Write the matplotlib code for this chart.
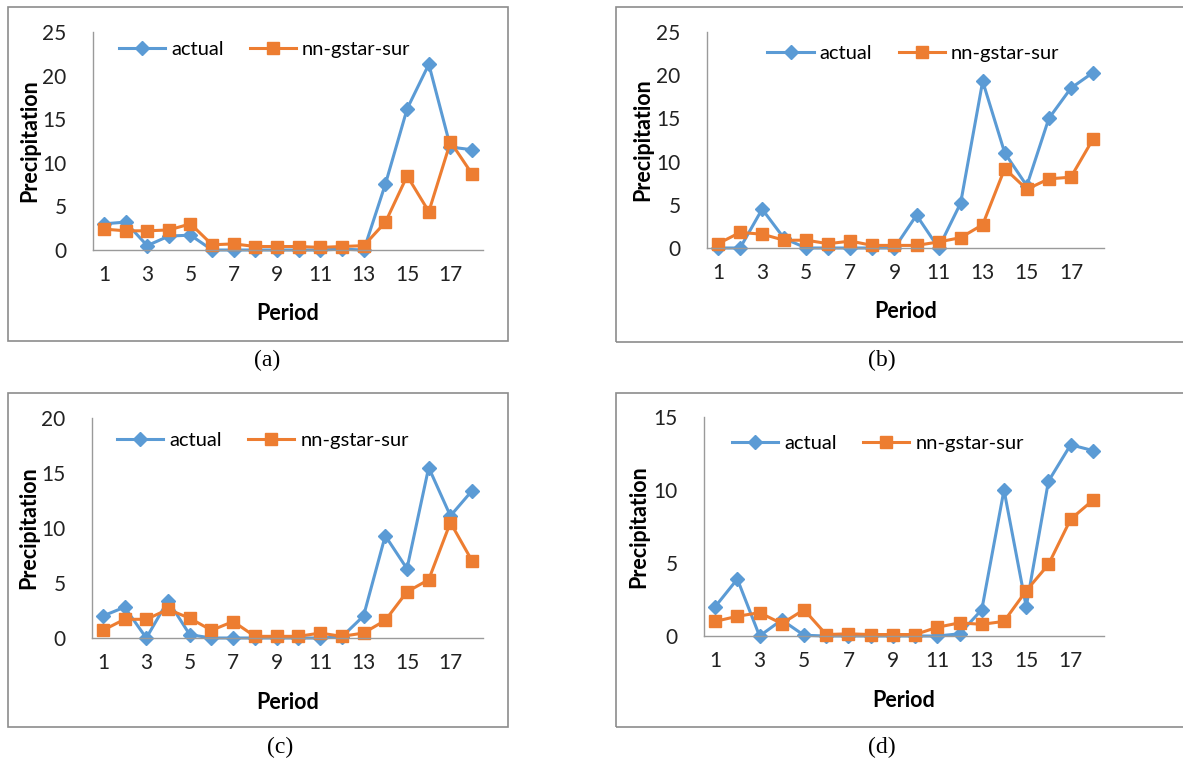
import numpy as np
import matplotlib
matplotlib.use("Agg")
import matplotlib.pyplot as plt
from matplotlib.patches import Rectangle

periods = list(range(1, 19))

actual_a = [3.0, 3.2, 0.5, 1.6, 1.7, 0, 0, 0, 0, 0, 0, 0.1, 0, 7.6, 16.2, 21.3, 11.8, 11.5]
pred_a = [2.4, 2.2, 2.2, 2.3, 3.0, 0.6, 0.7, 0.4, 0.4, 0.4, 0.3, 0.4, 0.5, 3.2, 8.5, 4.4, 12.4, 8.7]

actual_b = [0, 0, 4.5, 1.1, 0, 0, 0, 0, 0, 3.8, 0, 5.2, 19.3, 11.0, 7.2, 15.0, 18.5, 20.3]
pred_b = [0.5, 1.8, 1.6, 0.9, 0.9, 0.5, 0.8, 0.3, 0.3, 0.3, 0.7, 1.2, 2.7, 9.2, 6.8, 8.0, 8.2, 12.6]

actual_c = [2.0, 2.8, 0, 3.4, 0.3, 0, 0, 0, 0, 0, 0, 0.1, 2.0, 9.3, 6.3, 15.5, 11.1, 13.4]
pred_c = [0.7, 1.7, 1.7, 2.6, 1.8, 0.7, 1.5, 0.15, 0.15, 0.15, 0.45, 0.15, 0.45, 1.6, 4.2, 5.3, 10.5, 7.0]

actual_d = [2.0, 3.9, 0, 1.1, 0.05, 0, 0, 0, 0, 0, 0, 0.15, 1.8, 10.0, 2.0, 10.6, 13.1, 12.7]
pred_d = [1.0, 1.35, 1.6, 0.85, 1.8, 0.1, 0.15, 0.1, 0.1, 0.1, 0.6, 0.9, 0.8, 1.0, 3.1, 4.9, 8.0, 9.3]

ymax = [25, 25, 20, 15]
captions = ["(a)", "(b)", "(c)", "(d)"]

W, H = 1183, 761
BLUE = "#5B9BD5"
ORANGE = "#ED7D31"
FONT = "Lato"

# pixel layouts: axes (left, top, right, bottom), frame (x0, y0, x1, y1), caption (x, y), legend center (axes coords)
axes_px = [(93, 32, 483, 250), (707, 32, 1104, 248), (92, 418, 483, 638), (704, 417, 1104, 636)]
frame_px = [(8, 7, 508, 341), (616, 7, 1186, 342), (8, 393, 508, 727), (616, 393, 1186, 727)]
cap_px = [(267, 360), (882, 360), (280, 747), (882, 747)]
leg_pos = [(0.44, 0.92), (0.52, 0.90), (0.437, 0.90), (0.435, 0.877)]

data = [(actual_a, pred_a), (actual_b, pred_b), (actual_c, pred_c), (actual_d, pred_d)]

fig = plt.figure(figsize=(W / 100, H / 100), dpi=100)

for i in range(4):
    l, t, r, b = axes_px[i]
    ax = fig.add_axes([l / W, (H - b) / H, (r - l) / W, (b - t) / H])
    act, pred = data[i]
    ax.plot(periods, act, color=BLUE, marker="D", markersize=7, linewidth=2.2, label="actual")
    ax.plot(periods, pred, color=ORANGE, marker="s", markersize=8.5, linewidth=2.2, label="nn-gstar-sur")

    ax.set_xlim(0.5, 18.5)
    ax.set_ylim(0, ymax[i])
    ax.set_xticks(range(1, 18, 2))
    ax.set_yticks(range(0, ymax[i] + 1, 5))
    ax.tick_params(length=0, labelsize=15, colors="#222222")
    ax.tick_params(axis="y", pad=19)
    ax.tick_params(axis="x", pad=11)
    for lab in ax.get_xticklabels() + ax.get_yticklabels():
        lab.set_fontfamily(FONT)
    for s in ["top", "right"]:
        ax.spines[s].set_visible(False)
    for s in ["left", "bottom"]:
        ax.spines[s].set_color("#9a9a9a")
        ax.spines[s].set_linewidth(1.0)
    for ln in ax.lines:
        ln.set_clip_on(False)

    ax.set_xlabel("Period", fontsize=15.5, fontweight="bold", fontfamily=FONT)
    ax.set_ylabel("Precipitation", fontsize=15.5, fontweight="bold", fontfamily=FONT)
    ax.xaxis.set_label_coords(0.5, -0.245)
    ax.yaxis.set_label_coords(-0.136, 0.5)

    ax.legend(loc="center", bbox_to_anchor=leg_pos[i], ncol=2, frameon=False,
              handlelength=2.3, handletextpad=0.3, columnspacing=1.3,
              prop={"family": FONT, "size": 14.5})

    x0, y0, x1, y1 = frame_px[i]
    fig.add_artist(Rectangle((x0 / W, (H - y1) / H), (x1 - x0) / W, (y1 - y0) / H,
                             transform=fig.transFigure, fill=False,
                             edgecolor="#8c8c8c", linewidth=1.2))
    cx, cy = cap_px[i]
    fig.text(cx / W, (H - cy) / H, captions[i], ha="center", va="center",
             fontsize=17, fontfamily="Liberation Serif")

fig.savefig("out.png", dpi=100, facecolor="white")
